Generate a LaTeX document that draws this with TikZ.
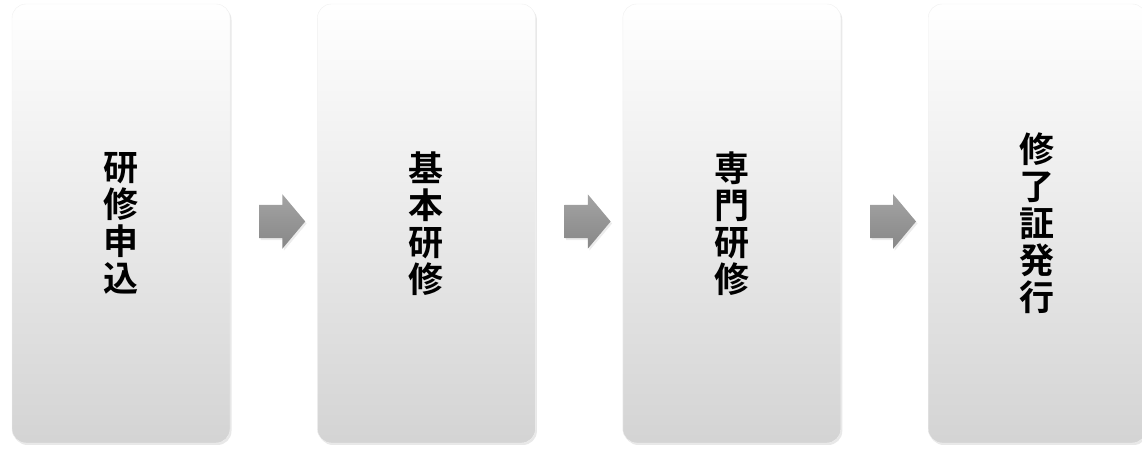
\documentclass[tikz,border=0pt]{standalone}
\usepackage{fontspec}
\newfontfamily\jpfont{Noto Sans CJK JP Bold}
\usetikzlibrary{positioning, calc, shapes.arrows, shadows}

\begin{document}
\begin{tikzpicture}[x=1pt, y=1pt, node distance=0pt and 87pt,
stage/.style={rectangle, rounded corners=14pt, minimum width=218pt, minimum height=439pt,
  inner sep=0pt, top color=white, bottom color=black!17, draw=black!6,
  drop shadow={shadow xshift=1.5pt, shadow yshift=-2pt, opacity=0.18},
  align=center, font=\jpfont\fontsize{35}{37}\selectfont},
flow/.style={single arrow, single arrow head extend=10.5pt, single arrow tip angle=100,
  minimum height=46pt, inner xsep=0pt, inner ysep=16.5pt,
  top color=black!36, bottom color=black!47, draw=none,
  drop shadow={shadow xshift=1.5pt, shadow yshift=-2pt, opacity=0.15}} ]
\useasboundingbox (0,0) rectangle (1142,449);

\node (S1) [stage] at (121,225.5) {研\\修\\申\\込};
\node (S2) [stage, right = of S1] {基\\本\\研\\修};
\node (S3) [stage, right = of S2] {専\\門\\研\\修};
\node (S4) [stage, right = of S3] {修\\了\\証\\発\\行};

\node (A1) [flow, xshift=1.5pt, yshift=2pt] at ($(S1.east)!0.5!(S2.west)$) {};
\node (A2) [flow, xshift=1.5pt, yshift=2pt] at ($(S2.east)!0.5!(S3.west)$) {};
\node (A3) [flow, xshift=1.5pt, yshift=2pt] at ($(S3.east)!0.5!(S4.west)$) {};

\end{tikzpicture}
\end{document}
